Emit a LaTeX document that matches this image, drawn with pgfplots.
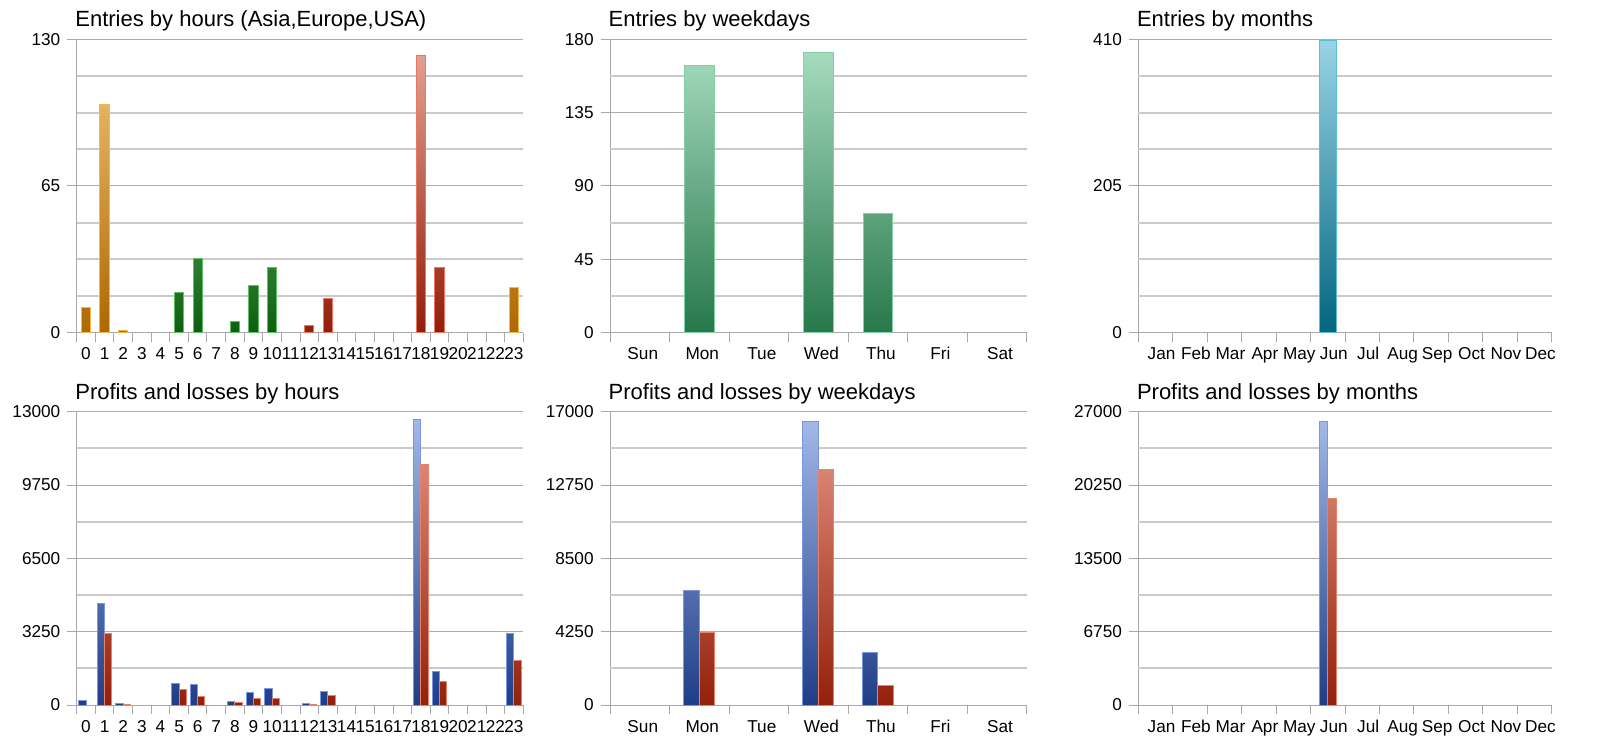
\documentclass[border=0pt]{standalone}
\usepackage{fontspec}
\setmainfont{Liberation Sans}
\usepackage{pgfplots}
\pgfplotsset{compat=1.18}

\definecolor{axgray}{HTML}{A8A8A8}
\definecolor{gridmaj}{HTML}{ABABAB}
\definecolor{gridmin}{HTML}{CACACA}
% Asia (orange)
\definecolor{orgL}{HTML}{F6C77A}
\definecolor{orgD}{HTML}{AE6800}
\definecolor{orgB}{HTML}{F5B84E}
% Europe (green)
\definecolor{grnL}{HTML}{8FE393}
\definecolor{grnD}{HTML}{0C5F0E}
\definecolor{grnB}{HTML}{62C064}
% USA (red)
\definecolor{redL}{HTML}{E7A798}
\definecolor{redD}{HTML}{921E0A}
\definecolor{redB}{HTML}{EA7663}
% weekdays (sea green)
\definecolor{wgL}{HTML}{ABDFC3}
\definecolor{wgD}{HTML}{27784B}
\definecolor{wgB}{HTML}{7FD0A2}
% months (teal)
\definecolor{tlL}{HTML}{98D5E6}
\definecolor{tlD}{HTML}{03657F}
\definecolor{tlB}{HTML}{5BBCD8}
% profits (blue) / losses (red)
\definecolor{bluL}{HTML}{A6BCEA}
\definecolor{bluD}{HTML}{1F3D87}
\definecolor{bluB}{HTML}{7A96E2}
\definecolor{plL}{HTML}{E99C8A}
\definecolor{plD}{HTML}{93200A}
\definecolor{plB}{HTML}{E8806C}

\pgfplotsset{
  panel/.style={
    scale only axis, anchor=south west, clip=false,
    axis lines*=left,
    axis line style={draw=axgray, line width=0.5pt},
    xmin=0, ymin=0,
    tick align=outside,
    major tick length=4.75pt, minor tick length=4.5pt,
    major x tick style={draw=none},
    minor x tick style={draw=axgray, line width=0.5pt},
    major y tick style={draw=axgray, line width=0.5pt},
    ymajorgrids,
    major grid style={draw=gridmaj, line width=0.5pt},
    extra y tick labels={},
    extra y tick style={major tick length=0pt, grid=major,
      major grid style={draw=gridmin, line width=0.9pt}},
    scaled y ticks=false,
    tick label style={font=\fontsize{8.6}{10}\selectfont, text=black},
    yticklabel style={anchor=east, inner sep=0pt, xshift=-3.25pt},
    xticklabel style={anchor=base, inner sep=0pt, yshift=-8.9pt},
    title style={at={(0,1)}, anchor=base west, inner sep=0pt,
      yshift=0.3pt, xshift=-0.85pt, font=\fontsize{11}{13}\selectfont},
  },
  obar/.style={ybar, bar shift=0pt, draw=orgB, line width=0.5pt, top color=orgL!#1!orgD, bottom color=orgD},
  gbar/.style={ybar, bar shift=0pt, draw=grnB, line width=0.5pt, top color=grnL!#1!grnD, bottom color=grnD},
  rbar/.style={ybar, bar shift=0pt, draw=redB, line width=0.5pt, top color=redL!#1!redD, bottom color=redD},
  wbar/.style={ybar, bar shift=0pt, draw=wgB, line width=0.5pt, top color=wgL!#1!wgD, bottom color=wgD},
  tbar/.style={ybar, bar shift=0pt, draw=tlB, line width=0.5pt, top color=tlL!#1!tlD, bottom color=tlD},
  bbar/.style={ybar, draw=bluB, line width=0.5pt, top color=bluL!#1!bluD, bottom color=bluD},
  lbar/.style={ybar, draw=plB, line width=0.5pt, top color=plL!#1!plD, bottom color=plD},
}

\begin{document}
\begin{tikzpicture}
\fill[white] (0,0) rectangle (800pt,372pt);
\useasboundingbox (0,0) rectangle (800pt,372pt);

% ---------------- Entries by hours ----------------
\begin{axis}[panel, at={(38.35pt,205.65pt)}, width=223.3pt, height=146.7pt,
  xmax=24, ymax=130,
  ytick={0,65,130}, yticklabels={0,65,130},
  extra y ticks={16.25,32.5,48.75,81.25,97.5,113.75},
  xtick={0.5,1.5,...,23.5},
  xticklabels={0,1,2,3,4,5,6,7,8,9,10,11,12,13,14,15,16,17,18,19,20,21,22,23},
  minor xtick={0,1,...,24},
  bar width=0.5,
  title={Entries by hours (Asia,Europe,USA)}]
\addplot[obar=8]  coordinates {(0.5,11)};
\addplot[obar=78] coordinates {(1.5,101)};
\addplot[obar=1]  coordinates {(2.5,1)};
\addplot[gbar=14] coordinates {(5.5,18)};
\addplot[gbar=25] coordinates {(6.5,33)};
\addplot[gbar=4]  coordinates {(8.5,5)};
\addplot[gbar=16] coordinates {(9.5,21)};
\addplot[gbar=22] coordinates {(10.5,29)};
\addplot[rbar=2]  coordinates {(12.5,3)};
\addplot[rbar=12] coordinates {(13.5,15)};
\addplot[rbar=95] coordinates {(18.5,123)};
\addplot[rbar=22] coordinates {(19.5,29)};
\addplot[obar=15] coordinates {(23.5,20)};
\end{axis}

% ---------------- Entries by weekdays ----------------
\begin{axis}[panel, at={(305pt,205.65pt)}, width=208.35pt, height=146.7pt,
  xmax=7, ymax=180,
  ytick={0,45,90,135,180}, yticklabels={0,45,90,135,180},
  extra y ticks={22.5,67.5,112.5,157.5},
  xtick={0.5,1.5,...,6.5},
  xticklabels={Sun,Mon,Tue,Wed,Thu,Fri,Sat},
  xticklabel style={xshift=1.5pt},
  minor xtick={0,1,...,7},
  bar width=0.5,
  title={Entries by weekdays}]
\addplot[wbar=91] coordinates {(1.5,164)};
\addplot[wbar=96] coordinates {(3.5,172)};
\addplot[wbar=41] coordinates {(4.5,73)};
\end{axis}

% ---------------- Entries by months ----------------
\begin{axis}[panel, at={(569.15pt,205.65pt)}, width=206.7pt, height=146.7pt,
  xmax=12, ymax=410,
  ytick={0,205,410}, yticklabels={0,205,410},
  extra y ticks={51.25,102.5,153.75,256.25,307.5,358.75},
  xtick={0.5,1.5,...,11.5},
  xticklabels={Jan,Feb,Mar,Apr,May,Jun,Jul,Aug,Sep,Oct,Nov,Dec},
  xticklabel style={xshift=3pt},
  minor xtick={0,1,...,12},
  bar width=0.49,
  title={Entries by months}]
\addplot[tbar=100] coordinates {(5.5,409)};
\end{axis}

% ---------------- Profits and losses by hours ----------------
\begin{axis}[panel, at={(38.35pt,19.5pt)}, width=223.3pt, height=146.65pt,
  xmax=24, ymax=13000,
  ytick={0,3250,6500,9750,13000}, yticklabels={0,3250,6500,9750,13000},
  extra y ticks={1625,4875,8125,11375},
  xtick={0.5,1.5,...,23.5},
  xticklabels={0,1,2,3,4,5,6,7,8,9,10,11,12,13,14,15,16,17,18,19,20,21,22,23},
  minor xtick={0,1,...,24},
  bar width=0.39,
  title={Profits and losses by hours}]
% profits
\addplot[bbar=1,  bar shift=-0.195] coordinates {(0.5,190)};
\addplot[bbar=35, bar shift=-0.195] coordinates {(1.5,4520)};
\addplot[bbar=0,  bar shift=-0.195] coordinates {(2.5,50)};
\addplot[bbar=7,  bar shift=-0.195] coordinates {(5.5,945)};
\addplot[bbar=7,  bar shift=-0.195] coordinates {(6.5,916)};
\addplot[bbar=1,  bar shift=-0.195] coordinates {(8.5,177)};
\addplot[bbar=4,  bar shift=-0.195] coordinates {(9.5,576)};
\addplot[bbar=6,  bar shift=-0.195] coordinates {(10.5,739)};
\addplot[bbar=0,  bar shift=-0.195] coordinates {(12.5,50)};
\addplot[bbar=5,  bar shift=-0.195] coordinates {(13.5,620)};
\addplot[bbar=97, bar shift=-0.195] coordinates {(18.5,12645)};
\addplot[bbar=11, bar shift=-0.195] coordinates {(19.5,1492)};
\addplot[bbar=24, bar shift=-0.195] coordinates {(23.5,3176)};
% losses
\addplot[lbar=24, bar shift=0.195] coordinates {(1.5,3176)};
\addplot[lbar=0,  bar shift=0.195] coordinates {(2.5,15)};
\addplot[lbar=5,  bar shift=0.195] coordinates {(5.5,680)};
\addplot[lbar=3,  bar shift=0.195] coordinates {(6.5,369)};
\addplot[lbar=1,  bar shift=0.195] coordinates {(8.5,118)};
\addplot[lbar=2,  bar shift=0.195] coordinates {(9.5,266)};
\addplot[lbar=2,  bar shift=0.195] coordinates {(10.5,310)};
\addplot[lbar=0,  bar shift=0.195] coordinates {(12.5,15)};
\addplot[lbar=3,  bar shift=0.195] coordinates {(13.5,428)};
\addplot[lbar=82, bar shift=0.195] coordinates {(18.5,10650)};
\addplot[lbar=8,  bar shift=0.195] coordinates {(19.5,1034)};
\addplot[lbar=15, bar shift=0.195] coordinates {(23.5,1980)};
\end{axis}

% ---------------- Profits and losses by weekdays ----------------
\begin{axis}[panel, at={(305pt,19.5pt)}, width=208.35pt, height=146.65pt,
  xmax=7, ymax=17000,
  ytick={0,4250,8500,12750,17000}, yticklabels={0,4250,8500,12750,17000},
  extra y ticks={2125,6375,10625,14875},
  xtick={0.5,1.5,...,6.5},
  xticklabels={Sun,Mon,Tue,Wed,Thu,Fri,Sat},
  xticklabel style={xshift=1.5pt},
  minor xtick={0,1,...,7},
  bar width=0.26,
  title={Profits and losses by weekdays}]
\addplot[bbar=39, bar shift=-0.13] coordinates {(1.5,6626)};
\addplot[bbar=97, bar shift=-0.13] coordinates {(3.5,16420)};
\addplot[bbar=18, bar shift=-0.13] coordinates {(4.5,3033)};
\addplot[lbar=25, bar shift=0.13] coordinates {(1.5,4231)};
\addplot[lbar=80, bar shift=0.13] coordinates {(3.5,13639)};
\addplot[lbar=7,  bar shift=0.13] coordinates {(4.5,1140)};
\end{axis}

% ---------------- Profits and losses by months ----------------
\begin{axis}[panel, at={(569.15pt,19.5pt)}, width=206.7pt, height=146.65pt,
  xmax=12, ymax=27000,
  ytick={0,6750,13500,20250,27000}, yticklabels={0,6750,13500,20250,27000},
  extra y ticks={3375,10125,16875,23625},
  xtick={0.5,1.5,...,11.5},
  xticklabels={Jan,Feb,Mar,Apr,May,Jun,Jul,Aug,Sep,Oct,Nov,Dec},
  xticklabel style={xshift=3pt},
  minor xtick={0,1,...,12},
  bar width=0.245,
  title={Profits and losses by months}]
\addplot[bbar=97, bar shift=-0.1225] coordinates {(5.5,26080)};
\addplot[lbar=71, bar shift=0.1225] coordinates {(5.5,19053)};
\end{axis}
\end{tikzpicture}
\end{document}
